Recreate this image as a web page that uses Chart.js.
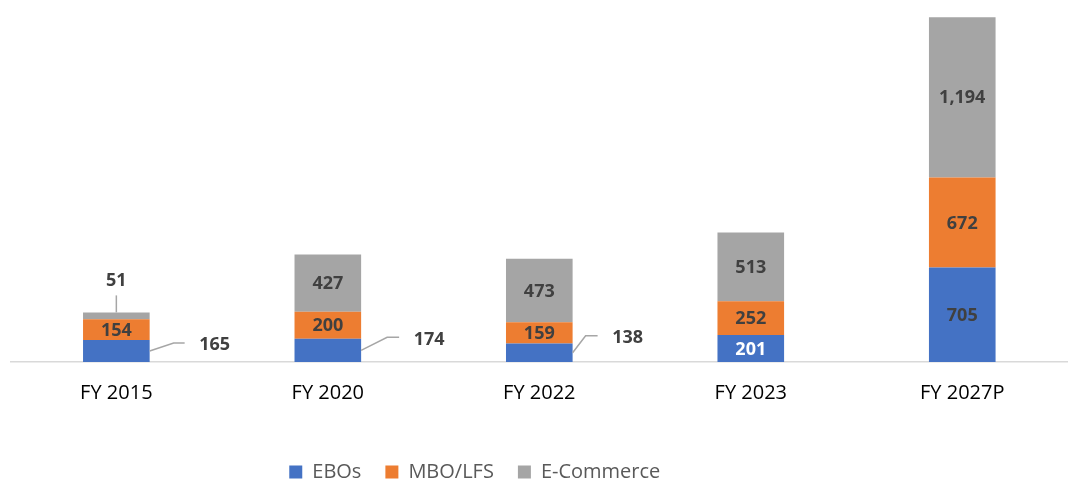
<!DOCTYPE html>
<html>
<head>
<meta charset="utf-8">
<script src="https://cdn.jsdelivr.net/npm/chart.js@4.4.1/dist/chart.umd.min.js"></script>
<style>
  html, body { margin: 0; padding: 0; background: #ffffff; }
  #wrap { width: 1068px; height: 483px; position: relative; }
</style>
</head>
<body>
<div id="wrap"><canvas id="c" width="1068" height="483"></canvas></div>
<script>
// ---- data ----
const categories = ["FY 2015", "FY 2020", "FY 2022", "FY 2023", "FY 2027P"];
const seriesNames = ["EBOs", "MBO/LFS", "E-Commerce"];
const eboValues = [165, 174, 138, 201, 705];
const mboValues = [154, 200, 159, 252, 672];
const ecomValues = [51, 427, 473, 513, 1194];

// ---- styling ----
const colors = ["#4472C4", "#ED7D31", "#A5A5A5"];
const FONT = "'Open Sans', 'Liberation Sans', sans-serif";
const labelColor = "#404040";
// callouts for small segments: [labelDx, labelDy, elbowDx, elbowDy, endDx] relative to segment right/middle
const eboCallouts = [[65, -6, 24, -8, 35], [68, -10, 26, -13, 38], [55, -15, 13, -17, 25], null, null];
// callout above bar for tiny top segment: [labelDy, lineTopDy]
const ecomCallouts = [[-32, -17], null, null, null, null];
const whiteLabels = [[null, null, null, true, null], [], []];

const dataLabels = {
  id: 'dataLabels',
  afterDatasetsDraw(chart) {
    const ctx = chart.ctx;
    ctx.save();
    ctx.font = "bold 18px " + FONT;
    ctx.textAlign = 'center';
    ctx.textBaseline = 'middle';
    chart.data.datasets.forEach((ds, di) => {
      const meta = chart.getDatasetMeta(di);
      meta.data.forEach((el, i) => {
        const p = el.getProps(['x', 'y', 'base', 'width'], true);
        const txt = ds.data[i].toLocaleString('en-US');
        const mid = (p.y + p.base) / 2;
        const right = p.x + p.width / 2;
        ctx.fillStyle = labelColor;
        if (di === 0 && eboCallouts[i]) {
          const c = eboCallouts[i];
          ctx.strokeStyle = '#A6A6A6';
          ctx.lineWidth = 1.5;
          ctx.beginPath();
          ctx.moveTo(right, mid);
          ctx.lineTo(right + c[2], mid + c[3]);
          ctx.lineTo(right + c[4], mid + c[3]);
          ctx.stroke();
          ctx.fillText(txt, right + c[0], mid + c[1]);
        } else if (di === 2 && ecomCallouts[i]) {
          const c = ecomCallouts[i];
          ctx.strokeStyle = '#A6A6A6';
          ctx.lineWidth = 1.5;
          ctx.beginPath();
          ctx.moveTo(p.x, p.y);
          ctx.lineTo(p.x, p.y + c[1]);
          ctx.stroke();
          ctx.fillText(txt, p.x, p.y + c[0]);
        } else {
          if (whiteLabels[di] && whiteLabels[di][i]) ctx.fillStyle = '#FFFFFF';
          ctx.fillText(txt, p.x, mid + 1);
        }
      });
    });
    ctx.restore();
  }
};

const legendShift = {
  id: 'legendShift',
  afterLayout(chart) {
    const lg = chart.legend;
    if (lg) { lg.left -= 69; lg.right -= 69; lg.top += 9; lg.bottom += 9; }
  }
};

new Chart(document.getElementById('c'), {
  type: 'bar',
  data: {
    labels: categories,
    datasets: [
      { label: seriesNames[0], data: eboValues, backgroundColor: colors[0] },
      { label: seriesNames[1], data: mboValues, backgroundColor: colors[1] },
      { label: seriesNames[2], data: ecomValues, backgroundColor: colors[2] }
    ]
  },
  options: {
    responsive: false,
    animation: false,
    devicePixelRatio: 1,
    layout: { padding: { left: 10.6, right: -9, top: 0, bottom: 0 } },
    datasets: { bar: { categoryPercentage: 1, barPercentage: 0.315, borderWidth: 0 } },
    scales: {
      x: {
        stacked: true,
        grid: { display: false },
        border: { display: true, color: '#D9D9D9', width: 1.5 },
        ticks: { color: '#000000', font: { family: FONT, size: 20 }, padding: 11 },
        afterFit(scale) { scale.height = 67; }
      },
      y: {
        stacked: true,
        display: false,
        min: 0,
        max: 2700
      }
    },
    plugins: {
      legend: {
        position: 'bottom',
        labels: {
          color: '#595959',
          font: { family: FONT, size: 20 },
          boxWidth: 13,
          boxHeight: 13,
          padding: 24
        }
      },
      tooltip: { enabled: false }
    }
  },
  plugins: [dataLabels, legendShift]
});
</script>
</body>
</html>
